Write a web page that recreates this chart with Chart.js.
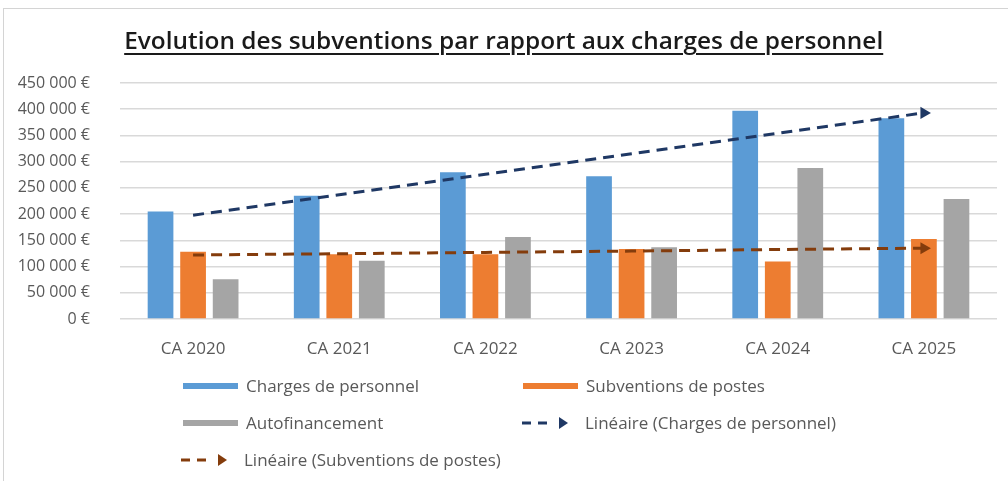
<!DOCTYPE html>
<html lang="fr">
<head>
<meta charset="utf-8">
<title>Evolution des subventions</title>
<script src="https://cdn.jsdelivr.net/npm/chart.js@4/dist/chart.umd.min.js"></script>
<style>
    html, body { margin: 0; padding: 0; background: #fff; }
    body { width: 1008px; height: 481px; position: relative; overflow: hidden; font-family: "Open Sans", sans-serif; }
    #frame { position: absolute; left: 3px; top: 8px; width: 1020px; height: 490px; border: 1px solid #d4d4d4; box-sizing: border-box; }
    #chartBox { position: absolute; left: 0; top: 0; width: 1008px; height: 481px; }
    #title { position: absolute; left: 0; top: 24px; width: 1008px; text-align: center; white-space: nowrap; }
    #title span { display: inline-block; font-weight: 600; font-size: 23px; color: #1a1a1a; text-decoration: underline; text-underline-offset: 4px; text-decoration-thickness: 2px; transform-origin: center; }
    .leg { position: absolute; display: flex; align-items: center; font-size: 17px; color: #595959; white-space: nowrap; }
    .leg .sw { width: 55px; height: 6px; margin-right: 8px; }
    .leg svg { margin-right: 14px; }
</style>
</head>
<body>
<div id="frame"></div>
<div id="chartBox"><canvas id="chart" width="1008" height="481"></canvas></div>
<div id="title"><span>Evolution des subventions par rapport aux charges de personnel</span></div>
<div id="legend"></div>

<script>
// Categories and values
const categories = ['CA 2020', 'CA 2021', 'CA 2022', 'CA 2023', 'CA 2024', 'CA 2025'];
const chargesPersonnel = [205000, 235000, 280000, 272000, 397000, 383000];
const subventionsPostes = [128000, 123500, 123500, 133500, 109500, 152500];
const autofinancement = [76000, 111000, 156500, 137000, 288000, 229000];
const trendCharges = [198000, 237000, 276000, 315000, 354000, 393000];
const trendSubventions = [122000, 124500, 127000, 129500, 132500, 135000];
const yTicks = [0, 50000, 100000, 150000, 200000, 250000, 300000, 350000, 400000, 450000];

const seriesLabels = ['Charges de personnel', 'Subventions de postes', 'Autofinancement',
    'Linéaire (Charges de personnel)', 'Linéaire (Subventions de postes)'];
const colors = ['#5b9bd5', '#ed7d31', '#a5a5a5', '#1f3864', '#843c0c'];

function formatEuro(v) {
    return String(v).replace(/\B(?=(\d{3})+(?!\d))/g, ' ') + ' €';
}

// only the last point of a trend line gets the arrow head
function arrowRadius(arr) {
    return arr.map((v, i) => i === arr.length - 1 ? 7 : 0);
}

function trendDataset(label, data, color) {
    return {
        type: 'line',
        label: label,
        data: data,
        borderColor: color,
        backgroundColor: color,
        borderWidth: 3,
        borderDash: [11, 7],
        pointStyle: 'triangle',
        rotation: 90,
        pointRadius: arrowRadius(data),
        pointBorderWidth: 0,
        fill: false,
        tension: 0,
        order: 0
    };
}

function barDataset(label, data, color) {
    return {
        type: 'bar',
        label: label,
        data: data,
        backgroundColor: color,
        borderWidth: 0,
        categoryPercentage: 0.668,
        barPercentage: 0.79,
        order: 1
    };
}

const ctx = document.getElementById('chart').getContext('2d');
const chart = new Chart(ctx, {
    type: 'bar',
    data: {
        labels: categories,
        datasets: [
            barDataset(seriesLabels[0], chargesPersonnel, colors[0]),
            barDataset(seriesLabels[1], subventionsPostes, colors[1]),
            barDataset(seriesLabels[2], autofinancement, colors[2]),
            trendDataset(seriesLabels[3], trendCharges, colors[3]),
            trendDataset(seriesLabels[4], trendSubventions, colors[4])
        ]
    },
    options: {
        responsive: false,
        animation: false,
        layout: {
            padding: { top: 83, left: 0, right: 11, bottom: 122 }
        },
        scales: {
            x: {
                grid: { display: false },
                border: { display: false },
                ticks: {
                    color: '#595959',
                    font: { family: 'Open Sans', size: 17 },
                    padding: 12
                },
                afterFit: function(scale) { scale.height = 40; }
            },
            y: {
                min: 0,
                max: 450000,
                afterBuildTicks: function(scale) {
                    scale.ticks = yTicks.map(v => ({ value: v }));
                },
                grid: { color: '#d9d9d9', lineWidth: 1.5, drawTicks: false },
                border: { display: false },
                ticks: {
                    color: '#595959',
                    font: { family: 'Open Sans', size: 16 },
                    padding: 30,
                    callback: function(value) { return formatEuro(value); }
                },
                afterFit: function(scale) { scale.width = 120; }
            }
        },
        plugins: {
            legend: { display: false },
            tooltip: { enabled: false }
        }
    }
});

// Legend built from the datasets, laid out in two columns like the original
const legendPos = [
    { left: 183, top: 374 },
    { left: 523, top: 374 },
    { left: 183, top: 411 },
    { left: 521, top: 411 },
    { left: 180, top: 448 }
];
const legendBox = document.getElementById('legend');
chart.data.datasets.forEach(function(ds, i) {
    const item = document.createElement('div');
    item.className = 'leg';
    item.style.left = legendPos[i].left + 'px';
    item.style.top = legendPos[i].top + 'px';
    let symbol;
    if (ds.type === 'bar') {
        symbol = '<div class="sw" style="background:' + ds.backgroundColor + '"></div>';
    } else {
        const c = ds.borderColor;
        symbol = '<svg width="50" height="14" viewBox="0 0 50 14">' +
            '<line x1="1" y1="7" x2="10" y2="7" stroke="' + c + '" stroke-width="3"/>' +
            '<line x1="17" y1="7" x2="26" y2="7" stroke="' + c + '" stroke-width="3"/>' +
            '<polygon points="38,1 47,7 38,13" fill="' + c + '"/></svg>';
    }
    item.innerHTML = symbol + '<span>' + ds.label + '</span>';
    legendBox.appendChild(item);
});

// Stretch the title to the width it has in the original
const titleSpan = document.querySelector('#title span');
const titleWidth = titleSpan.getBoundingClientRect().width;
titleSpan.style.transform = 'scaleX(' + (759 / titleWidth).toFixed(3) + ')';
</script>
</body>
</html>
